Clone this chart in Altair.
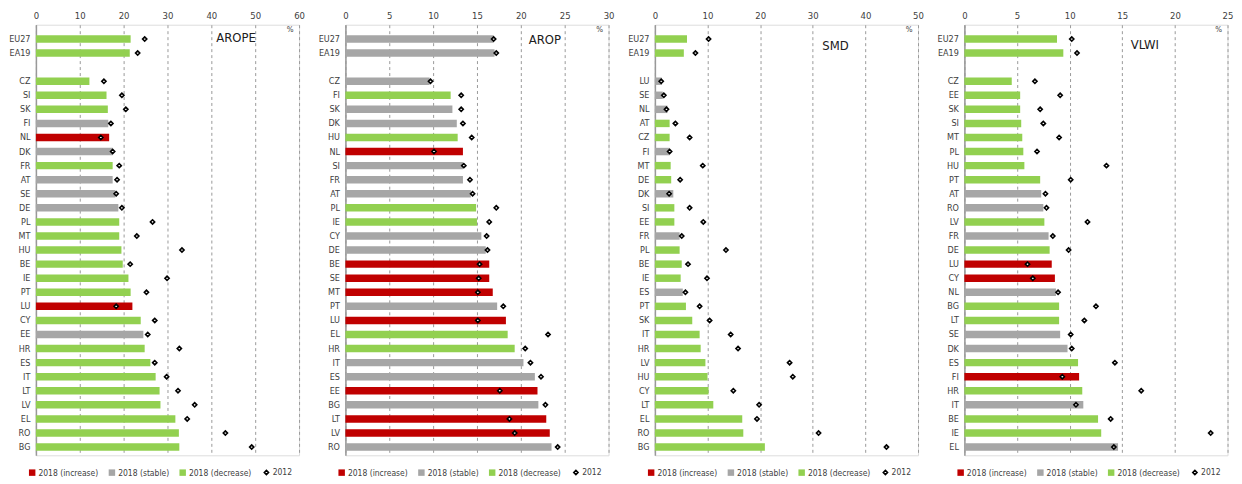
import altair as alt
import pandas as pd

FONT = "Liberation Sans Narrow, DejaVu Sans Condensed, Arial Narrow, sans-serif"
TXT = "#404040"
RED, GREY, GREEN = "#C00000", "#A6A6A6", "#92D050"
CATS = ["2018 (increase)", "2018 (stable)", "2018 (decrease)"]
CODE = {"i": CATS[0], "s": CATS[1], "d": CATS[2]}

# ---------------- AROPE ----------------
arope_geo = ["EU27", "EA19", "CZ", "SI", "SK", "FI", "NL", "DK", "FR", "AT", "SE", "DE", "PL", "MT",
             "HU", "BE", "IE", "PT", "LU", "CY", "EE", "HR", "ES", "IT", "LT", "LV", "EL", "RO", "BG"]
arope_2018 = [21.6, 21.4, 12.2, 16.1, 16.4, 16.5, 16.7, 17.5, 17.5, 17.5, 18.1, 18.8, 19.0, 19.0,
              19.5, 19.8, 21.1, 21.6, 22.0, 23.9, 24.5, 24.8, 26.1, 27.3, 28.2, 28.4, 31.8, 32.6, 32.7]
arope_2012 = [24.8, 23.2, 15.5, 19.6, 20.5, 17.1, 14.8, 17.5, 19.0, 18.5, 18.3, 19.6, 26.6, 23.0,
              33.3, 21.5, 29.9, 25.2, 18.3, 27.1, 25.5, 32.7, 27.1, 29.8, 32.4, 36.2, 34.5, 43.2, 49.2]
arope_status = ["d", "d", "d", "d", "d", "s", "i", "s", "d", "s", "s", "s", "d", "d",
                "d", "d", "d", "d", "i", "d", "s", "d", "d", "d", "d", "d", "d", "d", "d"]

# ---------------- AROP ----------------
arop_geo = ["EU27", "EA19", "CZ", "FI", "SK", "DK", "HU", "NL", "SI", "FR", "AT", "PL", "IE", "CY",
            "DE", "BE", "SE", "MT", "PT", "LU", "EL", "HR", "IT", "ES", "EE", "BG", "LT", "LV", "RO"]
arop_2018 = [16.9, 17.0, 9.6, 12.0, 12.2, 12.7, 12.8, 13.4, 13.4, 13.4, 14.3, 14.9, 15.0, 15.5,
             16.0, 16.4, 16.4, 16.8, 17.3, 18.3, 18.5, 19.3, 20.3, 21.6, 21.9, 22.0, 22.9, 23.3, 23.5]
arop_2012 = [16.9, 17.2, 9.7, 13.2, 13.2, 13.4, 14.4, 10.1, 13.5, 14.2, 14.5, 17.2, 16.4, 16.1,
             16.2, 15.3, 15.2, 15.1, 18.0, 15.1, 23.1, 20.5, 21.1, 22.3, 17.6, 22.8, 18.7, 19.3, 24.2]
arop_status = ["s", "s", "s", "d", "s", "s", "d", "i", "s", "s", "s", "d", "d", "s",
               "s", "i", "i", "i", "s", "i", "d", "d", "s", "s", "i", "s", "i", "i", "s"]

# ---------------- SMD ----------------
smd_geo = ["EU27", "EA19", "LU", "SE", "NL", "AT", "CZ", "FI", "MT", "DE", "DK", "SI", "EE", "FR",
           "PL", "BE", "IE", "ES", "PT", "SK", "IT", "HR", "LV", "HU", "CY", "LT", "EL", "RO", "BG"]
smd_2018 = [6.1, 5.5, 1.3, 1.5, 2.4, 2.8, 2.8, 2.8, 3.0, 3.1, 3.5, 3.7, 3.7, 4.7,
            4.7, 5.1, 4.9, 5.3, 5.9, 7.1, 8.5, 8.7, 9.6, 10.0, 10.2, 11.1, 16.6, 16.8, 20.9]
smd_2012 = [10.2, 7.7, 1.2, 1.7, 2.2, 3.9, 6.6, 2.8, 9.1, 4.8, 2.7, 6.6, 9.2, 5.1,
            13.5, 6.3, 9.9, 5.8, 8.5, 10.4, 14.4, 15.8, 25.6, 26.2, 14.9, 19.8, 19.4, 31.1, 44.0]
smd_status = ["d", "d", "s", "s", "s", "d", "d", "s", "d", "d", "s", "d", "d", "s",
              "d", "d", "d", "s", "d", "d", "d", "d", "d", "d", "d", "d", "d", "d", "d"]

# ---------------- VLWI ----------------
vlwi_geo = ["EU27", "EA19", "CZ", "EE", "SK", "SI", "MT", "PL", "HU", "PT", "AT", "RO", "LV", "FR",
            "DE", "LU", "CY", "NL", "BG", "LT", "SE", "DK", "ES", "FI", "HR", "IT", "BE", "IE", "EL"]
vlwi_2018 = [8.8, 9.4, 4.5, 5.3, 5.3, 5.4, 5.5, 5.6, 5.7, 7.2, 7.3, 7.5, 7.6, 8.0,
             8.1, 8.3, 8.6, 8.7, 9.0, 9.0, 9.1, 9.8, 10.8, 10.9, 11.2, 11.3, 12.7, 13.0, 14.6]
vlwi_2012 = [10.2, 10.7, 6.7, 9.1, 7.2, 7.5, 9.0, 6.9, 13.5, 10.1, 7.7, 7.8, 11.7, 8.4,
             9.9, 6.0, 6.5, 8.9, 12.5, 11.4, 10.1, 10.2, 14.3, 9.3, 16.8, 10.6, 13.9, 23.4, 14.2]
vlwi_status = ["d", "d", "d", "d", "d", "d", "d", "d", "d", "d", "s", "s", "d", "s",
               "d", "i", "i", "s", "d", "d", "s", "s", "d", "i", "d", "s", "d", "d", "s"]

PLOT_W, PLOT_H = 264, 432


def panel(name, geo, v18, v12, status, xmax, xstep, tx, ty):
    df = pd.DataFrame({
        "geo": geo, "v2018": v18, "v2012": v12,
        "status": [CODE[s] for s in status], "mk": ["2012"] * len(geo),
    })
    domain = geo[:2] + [" "] + geo[2:]
    yscale = alt.Scale(domain=domain, paddingInner=0.47, paddingOuter=0.535, align=0.7)
    yaxis = alt.Axis(title=None, ticks=False, labelFont=FONT, labelFontSize=9, labelColor=TXT,
                     labelPadding=6, domainColor="#999999", domainWidth=1.5, grid=False,
                     minExtent=27, maxExtent=27)
    xscale = alt.Scale(domain=[0, xmax], nice=False, zero=True)
    xaxis = alt.Axis(orient="top", title=None, values=list(range(0, xmax + 1, xstep)),
                     grid=True, gridDash=[3, 3], gridColor="#9a9a9a", gridWidth=1,
                     domain=False, ticks=False, labelFont=FONT, labelFontSize=9.5,
                     labelColor=TXT, labelPadding=4, minExtent=15, maxExtent=15,
                     labelFlush=False)
    base = alt.Chart(df)
    bars = base.mark_bar().encode(
        x=alt.X("v2018:Q", scale=xscale, axis=xaxis),
        y=alt.Y("geo:N", scale=yscale, axis=yaxis),
        color=alt.Color("status:N", scale=alt.Scale(domain=CATS, range=[RED, GREY, GREEN]),
                        legend=alt.Legend(title=None, orient="none", legendX=-8, legendY=445,
                                          direction="horizontal",
                                          symbolType="square", symbolSize=42, symbolStrokeWidth=0,
                                          labelFont=FONT, labelFontSize=8.5, labelColor=TXT,
                                          columnPadding=9, labelOffset=2)),
    )
    pts = base.mark_point(shape="diamond", filled=False, fill="white", strokeWidth=1.6, size=18,
                          opacity=1, fillOpacity=1).encode(
        x=alt.X("v2012:Q", scale=xscale),
        y=alt.Y("geo:N", scale=yscale),
        color=alt.Color("mk:N", scale=alt.Scale(domain=["2012"], range=["black"]),
                        legend=alt.Legend(title=None, orient="none", legendX=227, legendY=445,
                                          direction="horizontal", symbolSize=18,
                                          symbolType="diamond",
                                          symbolFillColor="white",
                                          symbolStrokeWidth=1.6, symbolOpacity=1,
                                          labelFont=FONT, labelFontSize=8.5, labelColor=TXT,
                                          labelOffset=2)),
    )
    ttl = alt.Chart(pd.DataFrame({"t": [name]})).mark_text(
        font=FONT, fontSize=13, color="#202020", align="left", baseline="middle"
    ).encode(text="t:N", x=alt.value(tx), y=alt.value(ty))
    pct = alt.Chart(pd.DataFrame({"t": ["%"]})).mark_text(
        font=FONT, fontSize=8, color=TXT, align="center", baseline="middle"
    ).encode(text="t:N", x=alt.value(PLOT_W - 9), y=alt.value(5))
    return alt.layer(bars, pts, ttl, pct).resolve_scale(color="independent").properties(
        width=PLOT_W, height=PLOT_H)


chart = alt.hconcat(
    panel("AROPE", arope_geo, arope_2018, arope_2012, arope_status, 60, 10, 181, 13),
    panel("AROP", arop_geo, arop_2018, arop_2012, arop_status, 30, 5, 184, 15),
    panel("SMD", smd_geo, smd_2018, smd_2012, smd_status, 50, 10, 168, 21),
    panel("VLWI", vlwi_geo, vlwi_2018, vlwi_2012, vlwi_status, 25, 5, 167, 20),
    spacing=46.5, bounds="flush",
).resolve_scale(color="independent", y="independent", x="independent").properties(
    padding={"left": 0, "top": 0, "right": 0, "bottom": 0}
).configure_view(stroke=None).configure(background="white")

chart.save("out.html", embed_options={"renderer": "svg", "actions": False})
